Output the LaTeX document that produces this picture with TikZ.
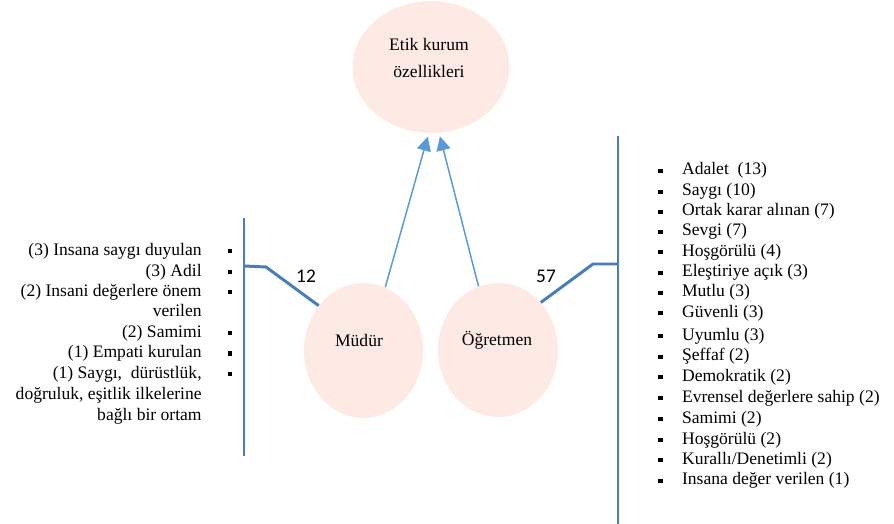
\documentclass[tikz,border=0pt]{standalone}
\usepackage{fontspec}
\setmainfont{Liberation Serif}
\newfontfamily\numfont{Carlito}
\usepackage{xcolor}
\usepackage{tikz}
\usetikzlibrary{shapes.geometric,arrows.meta,positioning}

\definecolor{blush}{RGB}{253,234,228}
\definecolor{steel}{RGB}{74,126,187}
\definecolor{skyarr}{RGB}{91,155,213}
\newcommand{\blt}{\rule[1.1pt]{2.4pt}{2.4pt}}

\begin{document}
\begin{tikzpicture}[x=0.02cm, y=-0.02cm,
  bub/.style={ellipse, fill=blush, inner sep=0pt},
  itm/.style={font=\fontsize{10}{12}\selectfont, inner sep=0pt},
  dot/.style={rectangle, fill=black, minimum size=2.4pt, inner sep=0pt},
  bar/.style={draw=steel, line width=1.7pt},
  arr/.style={draw=skyarr, line width=0.85pt, -{Triangle[width=8pt,length=8pt]}, shorten >=2pt},
  num/.style={font=\numfont\fontsize{11}{13}\selectfont, inner sep=0pt},
]
\useasboundingbox (0,0) rectangle (894,524);

%% Bubbles
\node[bub, minimum width=3.14cm, minimum height=2.64cm] (etik) at (431,67) {};
\node[itm, align=center, font=\fontsize{10}{15.4}\selectfont] (etiktxt) at (429,58) {Etik kurum\\özellikleri};
\node[bub, minimum width=2.38cm, minimum height=2.7cm] (mudur) at (363.5,350.5) {};
\node[itm] (mudurtxt) at (359,340) {Müdür};
\node[bub, minimum width=2.4cm, minimum height=2.68cm] (ogret) at (498,350) {};
\node[itm] (ogrettxt) at (497,340) {Öğretmen};

%% Arrows to the top bubble
\draw[arr] (mudur.71) -- (etik.268);
\draw[arr] (ogret.107) -- (etik.277);

%% Left bracket
\coordinate (ltop) at (244,218);
\coordinate (lbot) at (244,456);
\coordinate (lhook) at (244,266);
\coordinate (lknee) at (266,267);
\draw[bar] (ltop) -- (lbot);
\draw[bar] (lhook) -- (lknee) -- (mudur.135);
\node[num] (n12) at (306,276) {12};

%% Right bracket
\coordinate (rtop) at (618,136);
\coordinate (rbot) at (618,524);
\coordinate (rhook) at (618,264);
\coordinate (rknee) at (593,264);
\draw[bar] (rtop) -- (rbot);
\draw[bar] (rhook) -- (rknee) -- (ogret.48);
\node[num] (n57) at (546,276) {57};

%% Left list (Müdür)
\node[itm, anchor=mid east] (l1) at (202,251) {(3) Insana saygı duyulan};
\node[itm, anchor=mid east] (l2) at (202,272) {(3) Adil};
\node[itm, anchor=mid east] (l3) at (202,292) {(2) Insani değerlere önem};
\node[itm, anchor=mid east] (l3b) at (202,312.5) {verilen};
\node[itm, anchor=mid east] (l4) at (202,333) {(2) Samimi};
\node[itm, anchor=mid east] (l5) at (202,353.5) {(1) Empati kurulan};
\node[itm, anchor=mid east] (l6) at (202,374) {(1) Saygı,\ \ dürüstlük,};
\node[itm, anchor=mid east] (l6b) at (202,395) {doğruluk, eşitlik ilkelerine};
\node[itm, anchor=mid east] (l6c) at (202,416) {bağlı bir ortam};
\node[dot] (d1) at (230,251) {};
\node[dot] (d2) at (230,272) {};
\node[dot] (d3) at (230,292) {};
\node[dot] (d4) at (230,333) {};
\node[dot] (d5) at (230,353.5) {};
\node[dot] (d6) at (230,374) {};

%% Right list (Öğretmen)
\node[itm, anchor=mid west] (r1) at (658,170.7) {\makebox[13.5pt][l]{\blt}Adalet\ \ (13)};
\node[itm, anchor=mid west] (r2) at (658,191.7) {\makebox[13.5pt][l]{\blt}Saygı (10)};
\node[itm, anchor=mid west] (r3) at (658,211.7) {\makebox[13.5pt][l]{\blt}Ortak karar alınan (7)};
\node[itm, anchor=mid west] (r4) at (658,231.7) {\makebox[13.5pt][l]{\blt}Sevgi (7)};
\node[itm, anchor=mid west] (r5) at (658,252) {\makebox[13.5pt][l]{\blt}Hoşgörülü (4)};
\node[itm, anchor=mid west] (r6) at (658,272.7) {\makebox[13.5pt][l]{\blt}Eleştiriye açık (3)};
\node[itm, anchor=mid west] (r7) at (658,292.7) {\makebox[13.5pt][l]{\blt}Mutlu (3)};
\node[itm, anchor=mid west] (r8) at (658,313.3) {\makebox[13.5pt][l]{\blt}Güvenli (3)};
\node[itm, anchor=mid west] (r9) at (658,336) {\makebox[13.5pt][l]{\blt}Uyumlu (3)};
\node[itm, anchor=mid west] (r10) at (658,356.7) {\makebox[13.5pt][l]{\blt}Şeffaf (2)};
\node[itm, anchor=mid west] (r11) at (658,377.3) {\makebox[13.5pt][l]{\blt}Demokratik (2)};
\node[itm, anchor=mid west] (r12) at (658,398.3) {\makebox[13.5pt][l]{\blt}Evrensel değerlere sahip (2)};
\node[itm, anchor=mid west] (r13) at (658,419) {\makebox[13.5pt][l]{\blt}Samimi (2)};
\node[itm, anchor=mid west] (r14) at (658,440) {\makebox[13.5pt][l]{\blt}Hoşgörülü (2)};
\node[itm, anchor=mid west] (r15) at (658,460) {\makebox[13.5pt][l]{\blt}Kurallı/Denetimli (2)};
\node[itm, anchor=mid west] (r16) at (658,480.7) {\makebox[13.5pt][l]{\blt}Insana değer verilen (1)};

\end{tikzpicture}
\end{document}
